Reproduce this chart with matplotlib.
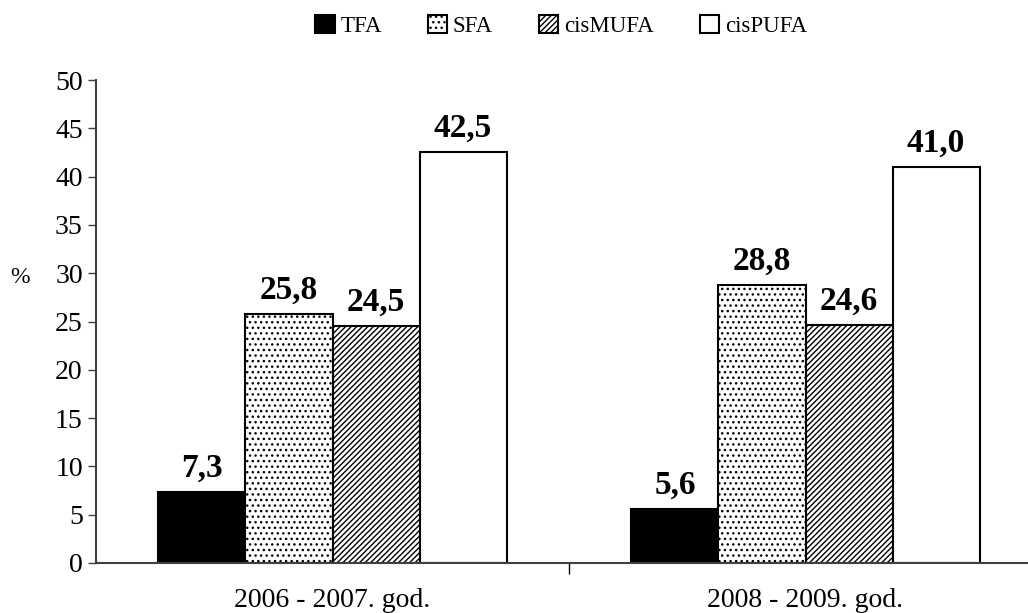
import numpy as np
import matplotlib.pyplot as plt

plt.rcParams['font.family'] = ['Liberation Serif', 'DejaVu Serif']
plt.rcParams['hatch.linewidth'] = 1.0

# data
periods = ["2006 - 2007. god.", "2008 - 2009. god."]
series = ["TFA", "SFA", "cisMUFA", "cisPUFA"]
tfa = [7.3, 5.6]
sfa = [25.8, 28.8]
mufa = [24.5, 24.6]
pufa = [42.5, 41.0]
values = [tfa, sfa, mufa, pufa]

fills = ["black", "white", "white", "white"]
hatches = [None, "...", "//////", None]

fig = plt.figure(figsize=(10.28, 6.13), dpi=100)
ax = fig.add_axes([96 / 1028, 1 - 563 / 613, 946 / 1028, (563 - 80) / 613])

x = np.arange(len(periods))
w = 0.184
for i, (name, vals) in enumerate(zip(series, values)):
    bars = ax.bar(x + (i - 1.5) * w, vals, w, color=fills[i], edgecolor="black",
                  linewidth=1.5, hatch=hatches[i], label=name)
    for b, v in zip(bars, vals):
        ax.annotate(f"{v:.1f}".replace(".", ","),
                    (b.get_x() + b.get_width() / 2, v),
                    xytext=(0, 6), textcoords="offset points",
                    ha="center", va="bottom", fontsize=24, fontweight="bold")

ax.set_xlim(-0.5, 1.5)
ax.set_ylim(0, 50)
ax.set_yticks(range(0, 51, 5))
ax.tick_params(axis="y", labelsize=20, length=6, width=1, color="#404040")
ax.set_xticks(x)
ax.set_xticklabels(periods, fontsize=20)
ax.tick_params(axis="x", length=0, pad=18)
ax.set_xticks([0.5], minor=True)
ax.tick_params(axis="x", which="minor", length=8, width=1, color="black")

for s in ["top", "right"]:
    ax.spines[s].set_visible(False)
for s in ["left", "bottom"]:
    ax.spines[s].set_color("#404040")
    ax.spines[s].set_linewidth(1.5)

ax.set_ylabel("%", fontsize=17, rotation=0)
ax.yaxis.set_label_coords(-0.08, 0.57)

fig.legend(loc="center", bbox_to_anchor=(561 / 1028, 1 - 26 / 613), ncol=4, frameon=False,
           fontsize=16.5, handlelength=0.85, handleheight=0.85, handletextpad=0.25,
           columnspacing=2.0)

fig.savefig("out.png", dpi=100)
